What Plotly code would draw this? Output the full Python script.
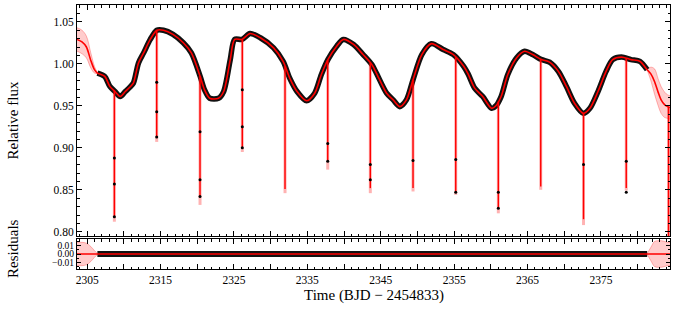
import numpy as np
import plotly.graph_objects as go

# ---------------- data ----------------
# GP model / light-curve trend where data exist (BJD-2454833, relative flux)
curve_t = [2306.4, 2307.4, 2308.1, 2308.8, 2309.5, 2310.2, 2310.8, 2311.3, 2312.0, 2312.7,
           2313.6, 2314.5, 2315.4, 2316.7, 2318.1, 2319.2, 2320.4, 2321.0, 2321.7, 2322.9,
           2323.6, 2324.5, 2325.1, 2326.1, 2327.2, 2328.6, 2330.4, 2331.7, 2332.6, 2333.6,
           2334.9, 2336.0, 2336.9, 2337.8, 2339.0, 2339.9, 2341.3, 2342.6, 2343.8, 2344.4,
           2345.8, 2346.7, 2347.6, 2348.5, 2349.4, 2350.6, 2351.9, 2353.5, 2354.9, 2356.3,
           2356.9, 2357.8, 2358.9, 2360.1, 2360.7, 2361.4, 2362.3, 2363.5, 2364.6, 2365.7,
           2366.9, 2368.0, 2369.2, 2370.3, 2371.4, 2372.6, 2373.5, 2374.6, 2375.7, 2376.6,
           2377.8, 2379.1, 2380.3, 2381.3]
curve_f = [0.989, 0.985, 0.973, 0.967, 0.961, 0.967, 0.972, 0.977, 1.001, 1.013,
           1.029, 1.040, 1.040, 1.035, 1.025, 1.013, 0.985, 0.969, 0.959, 0.959,
           0.967, 1.005, 1.029, 1.029, 1.036, 1.031, 1.019, 1.003, 0.983, 0.967,
           0.956, 0.965, 0.987, 1.005, 1.021, 1.029, 1.023, 1.011, 0.999, 0.989,
           0.965, 0.957, 0.949, 0.957, 0.981, 1.011, 1.024, 1.017, 1.011, 0.997,
           0.988, 0.971, 0.961, 0.947, 0.950, 0.961, 0.987, 1.007, 1.015, 1.011,
           1.005, 1.002, 0.991, 0.973, 0.953, 0.941, 0.947, 0.967, 0.991, 1.005,
           1.008, 1.005, 1.003, 0.993]

# GP prediction outside the data (centre and half width of the 1-sigma band)
left_t = [2303.62, 2304.3, 2304.9, 2305.5, 2306.0, 2306.4]
left_f = [1.029, 1.026, 1.020, 1.004, 0.993, 0.989]
left_hw = [0.014, 0.014, 0.013, 0.009, 0.004, 0.0005]
right_t = [2381.3, 2381.8, 2382.3, 2382.8, 2383.2, 2383.7, 2384.1, 2384.41]
right_f = [0.993, 0.988, 0.979, 0.966, 0.957, 0.951, 0.949, 0.948]
right_hw = [0.0005, 0.008, 0.015, 0.016, 0.016, 0.015, 0.014, 0.014]

# transits: mid-times, lowest model value, lower edge of model band, in-transit points
transit_t = [2308.71, 2314.48, 2320.38, 2326.14, 2331.96, 2337.78, 2343.58,
             2349.40, 2355.22, 2361.02, 2366.80, 2372.63, 2378.45, 2384.21]
transit_min = [0.818, 0.913, 0.842, 0.900, 0.851, 0.884, 0.852,
               0.852, 0.847, 0.828, 0.854, 0.815, 0.852, 0.700]
transit_band_min = [0.812, 0.907, 0.832, 0.895, 0.846, 0.874, 0.846,
                    0.848, 0.844, 0.822, 0.850, 0.808, 0.849, 0.700]
transit_pts = [[0.888, 0.857, 0.818], [0.978, 0.943, 0.913], [0.919, 0.862, 0.842],
               [0.969, 0.925, 0.900], [], [0.905, 0.884], [0.880, 0.862],
               [0.885], [0.886, 0.847], [0.847, 0.828], [], [0.880],
               [0.884, 0.847], []]

x_tickvals = [2305, 2310, 2315, 2320, 2325, 2330, 2335, 2340, 2345,
              2350, 2355, 2360, 2365, 2370, 2375, 2380]
x_ticktext = ['2305', '', '2315', '', '2325', '', '2335', '', '2345',
              '', '2355', '', '2365', '', '2375', '']
y_tickvals = [0.80, 0.85, 0.90, 0.95, 1.00, 1.05]
r_tickvals = [-0.01, 0.00, 0.01]

# ---------------- styling ----------------
RED = '#ff0000'
BAND = 'rgba(255,0,0,0.2)'
BAND_EDGE = 'rgba(255,0,0,0.35)'
FONT = 'Liberation Serif'

model_t = left_t[:-1] + curve_t[:-1] + right_t
model_f = left_f[:-1] + curve_f[:-1] + right_f

fig = go.Figure()


def band(t, c, hw, yaxis, centre_zero=False):
    t = np.array(t)
    c = np.zeros(len(t)) if centre_zero else np.array(c)
    hw = np.array(hw)
    up, lo = c + hw, c - hw
    xa = 'x' if yaxis == 'y' else 'x2'
    fig.add_trace(go.Scatter(x=np.concatenate([t, t[::-1]]), y=np.concatenate([up, lo[::-1]]),
                             fill='toself', fillcolor=BAND, line=dict(width=0, shape='spline'),
                             mode='lines', hoverinfo='skip', showlegend=False,
                             xaxis=xa, yaxis=yaxis))
    for edge in (up, lo):
        fig.add_trace(go.Scatter(x=t, y=edge, mode='lines',
                                 line=dict(color=BAND_EDGE, width=0.8, shape='spline'),
                                 showlegend=False, hoverinfo='skip', xaxis=xa, yaxis=yaxis))


# prediction bands (main and residual panels)
band(left_t, left_f, left_hw, 'y')
band(right_t, right_f, right_hw, 'y')
band(left_t, None, left_hw, 'y2', centre_zero=True)
band(right_t, None, right_hw, 'y2', centre_zero=True)

# black data cloud
fig.add_trace(go.Scatter(x=curve_t, y=curve_f, mode='lines',
                         line=dict(color='#111111', width=5.5, shape='spline', smoothing=0.8),
                         showlegend=False, hoverinfo='skip'))
fig.add_trace(go.Scatter(x=[curve_t[0], curve_t[-1]], y=[0, 0], mode='lines',
                         line=dict(color='#111111', width=6), showlegend=False,
                         xaxis='x2', yaxis='y2', hoverinfo='skip'))

# transits
tops = np.interp(transit_t, model_t, model_f)
px, py, rx, ry, dx, dy = [], [], [], [], [], []
for t, top, mn, bmn, pts in zip(transit_t, tops, transit_min, transit_band_min, transit_pts):
    px += [t, t, None]
    py += [top, bmn, None]
    rx += [t, t, None]
    ry += [top, mn, None]
    dx += [t] * len(pts)
    dy += pts
fig.add_trace(go.Scatter(x=px, y=py, mode='lines', line=dict(color='rgba(255,0,0,0.3)', width=3),
                         showlegend=False, hoverinfo='skip'))
fig.add_trace(go.Scatter(x=rx, y=ry, mode='lines', line=dict(color=RED, width=1.4),
                         showlegend=False, hoverinfo='skip'))

# model curve
fig.add_trace(go.Scatter(x=model_t, y=model_f, mode='lines',
                         line=dict(color=RED, width=1.6, shape='spline', smoothing=0.8),
                         showlegend=False, hoverinfo='skip'))
fig.add_trace(go.Scatter(x=dx, y=dy, mode='markers', marker=dict(color='black', size=3),
                         showlegend=False, hoverinfo='skip'))

# residual zero line
fig.add_trace(go.Scatter(x=[model_t[0], model_t[-1]], y=[0, 0], mode='lines',
                         line=dict(color=RED, width=1.4), showlegend=False,
                         xaxis='x2', yaxis='y2', hoverinfo='skip'))

tickfont = dict(family=FONT, size=11.5, color='black')
common = dict(showline=True, linecolor='black', linewidth=1, mirror='allticks',
              ticks='inside', tickcolor='black', showgrid=False, zeroline=False)

xr = [left_t[0], right_t[-1]]
fig.update_layout(
    width=698, height=310,
    margin=dict(l=77, r=28, t=5, b=41),
    paper_bgcolor='white', plot_bgcolor='white',
    xaxis=dict(domain=[0, 1], anchor='y', range=xr, tickmode='array', tickvals=x_tickvals,
               ticktext=['' for _ in x_tickvals], ticklen=5, tickfont=tickfont,
               minor=dict(tickmode='linear', tick0=2305, dtick=1, ticks='inside', ticklen=2.5,
                          tickcolor='black'), **common),
    xaxis2=dict(domain=[0, 1], anchor='y2', range=xr, matches='x', tickmode='array',
                tickvals=x_tickvals, ticktext=x_ticktext, ticklen=5, tickfont=tickfont,
                minor=dict(tickmode='linear', tick0=2305, dtick=1, ticks='inside', ticklen=2.5,
                           tickcolor='black'), **common),
    yaxis=dict(domain=[0.125, 1], anchor='x', range=[0.795, 1.070], tickmode='array',
               tickvals=y_tickvals, tickformat='.2f', ticklen=5, tickfont=tickfont,
               minor=dict(tickmode='linear', tick0=0.80, dtick=0.01, ticks='inside', ticklen=2.5,
                          tickcolor='black'), **common),
    yaxis2=dict(domain=[0, 0.1136], anchor='x2', range=[-0.018, 0.018], tickmode='array',
                tickvals=r_tickvals, tickformat='.2f', ticklen=4,
                tickfont=dict(family=FONT, size=9.5, color='black'),
                minor=dict(tickmode='linear', tick0=0, dtick=0.005, ticks='inside', ticklen=2,
                           tickcolor='black'), **common),
    annotations=[
        dict(text='Relative flux', xref='paper', yref='paper', x=-0.108, y=0.5625,
             textangle=-90, showarrow=False, xanchor='center', yanchor='middle',
             font=dict(family=FONT, size=15, color='black')),
        dict(text='Residuals', xref='paper', yref='paper', x=-0.108, y=0.0758,
             textangle=-90, showarrow=False, xanchor='center', yanchor='middle',
             font=dict(family=FONT, size=15, color='black')),
        dict(text='Time (BJD \u2212 2454833)', xref='paper', yref='paper', x=0.5, y=-0.102,
             showarrow=False, xanchor='center', yanchor='middle',
             font=dict(family=FONT, size=15, color='black')),
    ],
)

fig.write_html('out.html', config={'displayModeBar': False},
               post_script="document.body.style.margin='0';")
